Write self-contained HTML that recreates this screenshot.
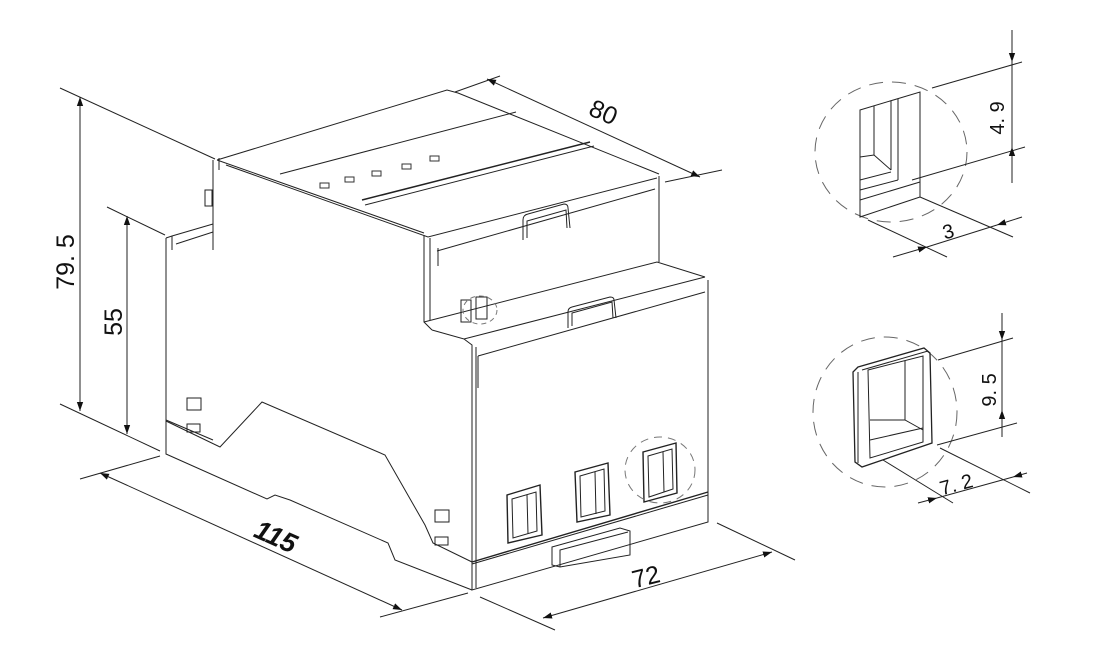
<!DOCTYPE html>
<html><head><meta charset="utf-8"><style>
html,body{margin:0;padding:0;background:#fff;}
svg{display:block}
text{font-family:"Liberation Sans",sans-serif;fill:#111}
</style></head><body>
<svg width="1100" height="654" viewBox="0 0 1100 654" xmlns="http://www.w3.org/2000/svg">
<defs>
<marker id="a" viewBox="0 0 10 10" refX="10" refY="5" markerWidth="9" markerHeight="9" orient="auto-start-reverse" markerUnits="userSpaceOnUse"><path d="M0,1.5 L10,5 L0,8.5 Z" fill="#111"/></marker>
</defs>
<g stroke="#222" stroke-width="1" fill="none">
<line x1="60" y1="88" x2="215" y2="159"/>
<line x1="60" y1="404" x2="160" y2="451"/>
<line x1="80" y1="97" x2="80" y2="411" marker-start="url(#a)" marker-end="url(#a)"/>
<line x1="107" y1="207" x2="165" y2="235"/>
<line x1="127" y1="216" x2="127" y2="434" marker-start="url(#a)" marker-end="url(#a)"/>
<line x1="80" y1="479" x2="160" y2="456"/>
<line x1="380" y1="617" x2="468" y2="593"/>
<line x1="100" y1="473" x2="402" y2="610" marker-start="url(#a)" marker-end="url(#a)"/>
<line x1="480" y1="597" x2="555" y2="630"/>
<line x1="717" y1="523" x2="795" y2="560"/>
<line x1="543" y1="618" x2="772" y2="552" marker-start="url(#a)" marker-end="url(#a)"/>
<line x1="455" y1="92" x2="500" y2="76"/>
<line x1="665" y1="182" x2="722" y2="170"/>
<line x1="487" y1="79" x2="700" y2="177" marker-start="url(#a)" marker-end="url(#a)"/>

<path d="M166,238 L166,454 L267,499 L275,495 L290,500 L388,543 L395,560 L472,590"/>
<path d="M166,238 L172,236 L213,224"/>
<path d="M172,236 L172,250 M176,244 L213,232"/>
<path d="M166,421 L220,447 L262,402 L385,455 L425,525 L433,543 L472,562"/>
<line x1="166" y1="420" x2="213" y2="440"/>
<path d="M213,160 L213,250"/>
<path d="M219,158 L219,170"/>
<path d="M217,160 L447,90 L458,93 L659,174"/>
<path d="M217,160 L424,233"/>
<path d="M226,165 L428,237 L657,178"/>
<line x1="280" y1="174" x2="516" y2="112"/>
<line x1="365" y1="205" x2="594" y2="146"/>
<line x1="362" y1="200" x2="590" y2="142" stroke-width="1.5"/>
<path d="M424,235 L424,322 L432,330"/>
<path d="M430,238 L430,320"/>
<line x1="659" y1="176" x2="659" y2="262"/>
<line x1="437" y1="251" x2="655" y2="189"/>
<line x1="438" y1="266" x2="438" y2="248"/>
<path d="M523,240 L523,220 Q523,215 528,214 L564,204 Q568,204 568,208 L570,228"/>
<path d="M527,238 L527,221 L566,210 L567,228"/>
<path d="M424,322 L657,262 L705,277"/>
<path d="M432,330 L464,339 L705,277"/>
<path d="M464,339 L472,345 L472,590 L708,522 L708,280"/>
<line x1="476" y1="347" x2="476" y2="588"/>
<line x1="478" y1="356" x2="705" y2="292"/>
<line x1="478" y1="388" x2="478" y2="356"/>
<path d="M568,328 L568,312 Q568,308 572,307 L610,297 Q614,297 614,300 L616,318"/>
<path d="M572,326 L572,313 L612,302 L613,318"/>
<line x1="472" y1="562" x2="708" y2="492" stroke-width="1.4"/>
<line x1="472" y1="564" x2="708" y2="495"/>
<path d="M507,495 L540,485 L542,535 L508,543 Z" stroke-width="1.4"/>
<path d="M512,499 L536,492 L537,531 L513,538 Z"/>
<line x1="527" y1="495" x2="528" y2="534"/>
<path d="M575,472 L608,463 L610,515 L577,522 Z" stroke-width="1.4"/>
<path d="M580,476 L604,469 L605,511 L581,517 Z"/>
<line x1="595" y1="472" x2="596" y2="514"/>
<path d="M643,452 L676,443 L677,493 L644,502 Z" stroke-width="1.4"/>
<path d="M648,456 L672,449 L673,489 L649,497 Z"/>
<line x1="663" y1="452" x2="664" y2="492"/>
<ellipse cx="660" cy="470" rx="35" ry="33" stroke-dasharray="8,6" stroke="#777"/>
<path d="M552,547 L620,528 L630,531 L630,555 L560,567 L552,565 Z"/>
<path d="M560,567 L560,550 L628,532"/>
<rect x="461" y="300" width="10" height="22"/>
<rect x="476" y="297" width="11" height="22"/>
<ellipse cx="480" cy="310" rx="17" ry="14" stroke-dasharray="5,4" stroke="#777"/>
<rect x="187" y="398" width="14" height="12"/>
<rect x="187" y="424" width="13" height="8"/>
<rect x="435" y="510" width="14" height="12"/>
<rect x="435" y="537" width="13" height="8"/>
<rect x="205" y="190" width="7" height="16"/>
<g stroke="#333">
<rect x="320" y="183" width="9" height="5"/><rect x="345" y="177" width="9" height="5"/><rect x="372" y="171" width="9" height="5"/><rect x="402" y="164" width="9" height="5"/><rect x="430" y="156" width="9" height="5"/>
</g>

<ellipse cx="891" cy="152" rx="76" ry="70" stroke-dasharray="14,9" stroke="#666"/>
<path d="M860,110 L920,92 L920,197 L860,217 Z"/>
<line x1="874" y1="106" x2="874" y2="155"/>
<line x1="891" y1="101" x2="891" y2="170"/>
<line x1="898" y1="99" x2="898" y2="180"/>
<path d="M860,157 L874,155 L891,170"/>
<line x1="860" y1="180" x2="891" y2="172"/>
<line x1="860" y1="190" x2="898" y2="180"/>
<line x1="860" y1="200" x2="920" y2="182"/>
<line x1="932" y1="88" x2="1022" y2="62"/>
<line x1="912" y1="180" x2="1025" y2="147"/>
<line x1="1012" y1="30" x2="1012" y2="62" marker-end="url(#a)"/>
<line x1="1012" y1="183" x2="1012" y2="147" marker-end="url(#a)"/>
<line x1="1012" y1="62" x2="1012" y2="147"/>
<line x1="868" y1="220" x2="947" y2="257"/>
<line x1="920" y1="197" x2="1013" y2="237"/>
<line x1="893" y1="257" x2="927" y2="247" marker-end="url(#a)"/>
<line x1="1022" y1="217" x2="997" y2="225" marker-end="url(#a)"/>
<line x1="927" y1="247" x2="997" y2="225"/>

<ellipse cx="885" cy="412" rx="72" ry="75" stroke-dasharray="14,9" stroke="#666"/>
<path d="M858,367 L924,348 L930,353 L932,443 L862,467 L855,462 L853,372 Z" stroke-width="1.3"/>
<path d="M862,370 L928,351"/>
<path d="M858,372 L858,463"/>
<path d="M868,370 L923,356 L923,442 L870,458 Z"/>
<line x1="905" y1="361" x2="905" y2="420"/>
<path d="M870,420 L905,420 L923,430"/>
<line x1="870" y1="440" x2="923" y2="428"/>
<line x1="938" y1="360" x2="1013" y2="338"/>
<line x1="937" y1="445" x2="1017" y2="423"/>
<line x1="1002" y1="313" x2="1002" y2="340" marker-end="url(#a)"/>
<line x1="1002" y1="437" x2="1002" y2="410" marker-end="url(#a)"/>
<line x1="1002" y1="340" x2="1002" y2="410"/>
<line x1="883" y1="460" x2="953" y2="503"/>
<line x1="940" y1="448" x2="1030" y2="493"/>
<line x1="918" y1="503" x2="937" y2="498" marker-end="url(#a)"/>
<line x1="1027" y1="473" x2="1013" y2="477" marker-end="url(#a)"/>
<line x1="937" y1="498" x2="1013" y2="477"/>
</g>

<text font-size="25" transform="translate(74,262) rotate(-90)" text-anchor="middle">79. 5</text>
<text font-size="25" transform="translate(122,322) rotate(-90)" text-anchor="middle">55</text>
<text font-size="27" font-weight="bold" font-style="italic" transform="translate(272,545) rotate(24)" text-anchor="middle">115</text>
<text font-size="25" transform="translate(648,585) rotate(-14)" text-anchor="middle">72</text>
<text font-size="25" transform="translate(600,120) rotate(24)" text-anchor="middle">80</text>
<text font-size="20" transform="translate(1004,118) rotate(-90)" text-anchor="middle">4. 9</text>
<text font-size="20" transform="translate(950,238) rotate(-15)" text-anchor="middle">3</text>
<text font-size="20" transform="translate(996,390) rotate(-90)" text-anchor="middle">9. 5</text>
<text font-size="20" transform="translate(958,491) rotate(-15)" text-anchor="middle">7. 2</text>
</svg>
</body></html>
